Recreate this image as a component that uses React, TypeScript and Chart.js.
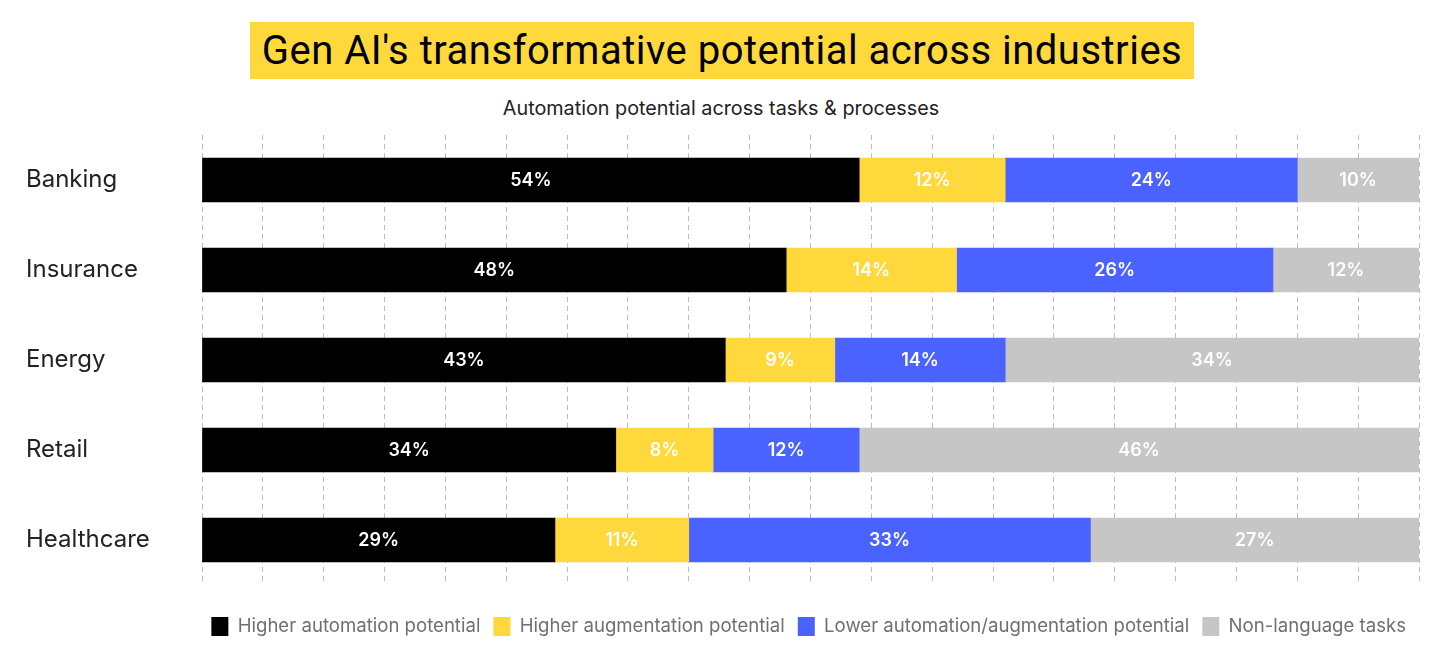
import React, { useEffect, useRef } from "react";
import { Chart, registerables } from "chart.js";

Chart.register(...registerables);

const industries = ["Banking", "Insurance", "Energy", "Retail", "Healthcare"];
const higherAutomation = [54, 48, 43, 34, 29];
const higherAugmentation = [12, 14, 9, 8, 11];
const lowerPotential = [24, 26, 14, 12, 33];
const nonLanguage = [10, 12, 34, 46, 27];
const seriesNames = [
  "Higher automation potential",
  "Higher augmentation potential",
  "Lower automation/augmentation potential",
  "Non-language tasks",
];
const seriesColors = ["#000000", "#FFD93B", "#4A62FF", "#C6C6C6"];
const titleText = "Gen AI's transformative potential across industries";
const subtitleText = "Automation potential across tasks & processes";

const FONT = "Inter, 'Noto Sans', sans-serif";

const barLabels = {
  id: "barLabels",
  afterDatasetsDraw(chart: any) {
    const ctx = chart.ctx;
    ctx.save();
    ctx.fillStyle = "#ffffff";
    ctx.font = `600 18px ${FONT}`;
    ctx.textAlign = "center";
    ctx.textBaseline = "middle";
    chart.data.datasets.forEach((ds: any, di: number) => {
      const meta = chart.getDatasetMeta(di);
      meta.data.forEach((el: any, i: number) => {
        const v = ds.data[i];
        const cx = (el.x + el.base) / 2;
        ctx.fillText(`${v}%`, cx, el.y + 1);
      });
    });
    ctx.restore();
  },
};

export default function App() {
  const ref = useRef<HTMLCanvasElement>(null);
  useEffect(() => {
    const values = [higherAutomation, higherAugmentation, lowerPotential, nonLanguage];
    const chart = new Chart(ref.current!, {
      type: "bar",
      data: {
        labels: industries,
        datasets: values.map((d, i) => ({
          label: seriesNames[i],
          data: d,
          backgroundColor: seriesColors[i],
          borderWidth: 0,
          barThickness: 44,
        })),
      },
      options: {
        indexAxis: "y",
        responsive: false,
        animation: false,
        layout: { padding: { left: 26, right: 33, top: 135, bottom: 4 } },
        scales: {
          x: {
            stacked: true,
            min: 0,
            max: 100,
            ticks: { display: false, stepSize: 5 },
            grid: { color: "#BDBDBD", lineWidth: 1, drawTicks: false },
            border: { display: false, dash: [5, 4] },
            afterFit(scale: any) {
              scale.height = 19;
            },
          },
          y: {
            stacked: true,
            grid: { display: false },
            border: { display: false },
            ticks: {
              crossAlign: "far",
              color: "#222222",
              font: { family: FONT, size: 24 },
            },
            afterFit(scale: any) {
              scale.width = 176;
            },
          },
        },
        plugins: {
          title: { display: false },
          tooltip: { enabled: false },
          legend: {
            position: "bottom",
            align: "end",
            labels: {
              boxWidth: 17,
              boxHeight: 19,
              padding: 13,
              color: "#6B7079",
              font: { family: FONT, size: 18.6 },
            },
          },
        },
      },
      plugins: [barLabels],
    });
    return () => chart.destroy();
  }, []);

  return (
    <div style={{ position: "absolute", left: 0, top: 0, width: 1452, height: 650, background: "#fff" }}>
      <div
        style={{
          position: "absolute",
          left: 250,
          top: 22,
          width: 944,
          height: 57,
          background: "#FFD93B",
          display: "flex",
          alignItems: "center",
          justifyContent: "center",
          fontFamily: "'Roboto', sans-serif",
          fontSize: 40,
          letterSpacing: "0.5px",
          color: "#000",
          whiteSpace: "nowrap",
        }}
      >
        {titleText}
      </div>
      <div
        style={{
          position: "absolute",
          left: 0,
          top: 96,
          width: 1442,
          textAlign: "center",
          fontFamily: FONT,
          fontSize: 19.8,
          color: "#222",
          lineHeight: "24px",
        }}
      >
        {subtitleText}
      </div>
      <canvas ref={ref} width={1452} height={650} style={{ position: "absolute", left: 0, top: 0 }} />
    </div>
  );
}
